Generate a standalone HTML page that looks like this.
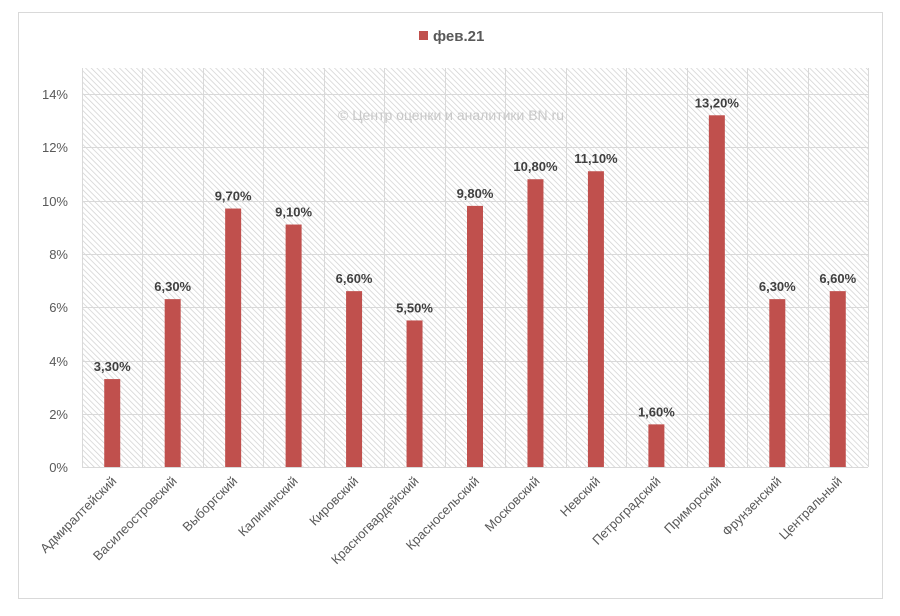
<!DOCTYPE html>
<html><head><meta charset="utf-8"><style>
body{margin:0;background:#fff}
svg text{font-family:"Liberation Sans",sans-serif}
</style></head><body>
<svg width="900" height="611" viewBox="0 0 900 611" xmlns="http://www.w3.org/2000/svg">
<defs>
<pattern id="h" width="4" height="4" patternUnits="userSpaceOnUse" patternTransform="rotate(-45)">
<rect width="4" height="4" fill="#fff"/>
<line x1="0" y1="0" x2="0" y2="4" stroke="#cfcfcf" stroke-width="1.4"/>
</pattern>
</defs>
<rect x="18.5" y="12.5" width="864" height="586" fill="#fff" stroke="#d9d9d9"/>
<rect x="82" y="68" width="786" height="399" fill="url(#h)"/>
<g stroke="#d9d9d9" stroke-width="1">
<line x1="82" y1="94.5" x2="868" y2="94.5"/>
<line x1="82" y1="147.5" x2="868" y2="147.5"/>
<line x1="82" y1="201.5" x2="868" y2="201.5"/>
<line x1="82" y1="254.5" x2="868" y2="254.5"/>
<line x1="82" y1="307.5" x2="868" y2="307.5"/>
<line x1="82" y1="361.5" x2="868" y2="361.5"/>
<line x1="82" y1="414.5" x2="868" y2="414.5"/>
<line x1="82" y1="467.5" x2="868" y2="467.5"/>
</g>
<g id="v" stroke="#d9d9d9"></g>
<g font-size="13" fill="#595959" text-anchor="end">
<text x="68" y="99">14%</text><text x="68" y="152">12%</text><text x="68" y="206">10%</text>
<text x="68" y="259">8%</text><text x="68" y="312">6%</text><text x="68" y="366">4%</text>
<text x="68" y="419">2%</text><text x="68" y="472">0%</text>
</g>
<text x="451" y="120" font-size="14" fill="#c8c8c8" text-anchor="middle">© Центр оценки и аналитики BN.ru</text>
<rect x="419" y="31" width="9" height="9" fill="#c0504d"/>
<text x="433" y="41" font-size="15" font-weight="bold" fill="#595959">фев.21</text>
<g id="bars"></g>
<script>
var vals=[3.3,6.3,9.7,9.1,6.6,5.5,9.8,10.8,11.1,1.6,13.2,6.3,6.6];
var names=["Адмиралтейский","Василеостровский","Выборгский","Калининский","Кировский","Красногвардейский","Красносельский","Московский","Невский","Петроградский","Приморский","Фрунзенский","Центральный"];
var ns="http://www.w3.org/2000/svg",g=document.getElementById("bars"),v=document.getElementById("v");
var w=786/13;
for(var i=0;i<=13;i++){var l=document.createElementNS(ns,"line");var x=Math.round(82+i*w)+0.5;l.setAttribute("x1",x);l.setAttribute("x2",x);l.setAttribute("y1",68);l.setAttribute("y2",467);v.appendChild(l);}
for(var i=0;i<13;i++){
var c=82+w*(i+0.5),hgt=vals[i]/2*53.29,y=467-hgt;
var r=document.createElementNS(ns,"rect");r.setAttribute("x",c-8);r.setAttribute("y",y);r.setAttribute("width",16);r.setAttribute("height",hgt);r.setAttribute("fill","#c0504d");g.appendChild(r);
var t=document.createElementNS(ns,"text");t.setAttribute("x",c);t.setAttribute("y",y-8);t.setAttribute("text-anchor","middle");t.setAttribute("font-size","13");t.setAttribute("font-weight","bold");t.setAttribute("fill","#404040");t.textContent=vals[i].toFixed(2).replace(".",",")+"%";g.appendChild(t);
var n=document.createElementNS(ns,"text");n.setAttribute("transform","translate("+(c+5)+",482) rotate(-45)");n.setAttribute("text-anchor","end");n.setAttribute("font-size","13");n.setAttribute("fill","#595959");n.textContent=names[i];g.appendChild(n);
}
</script>
</svg>
</body></html>
